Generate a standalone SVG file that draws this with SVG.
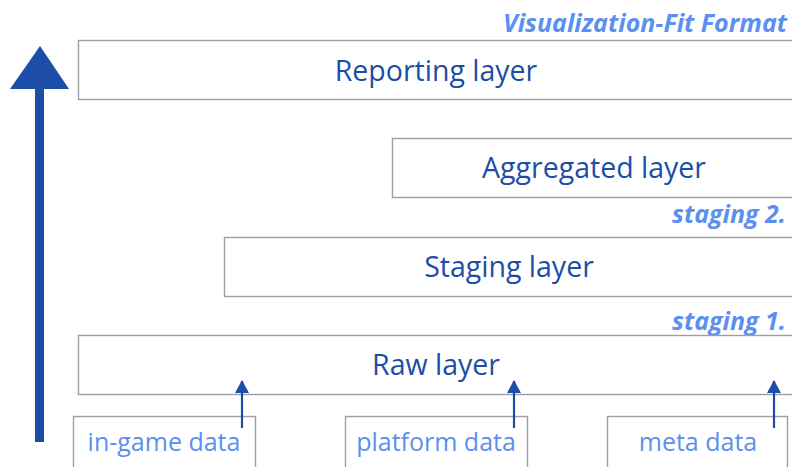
<svg xmlns="http://www.w3.org/2000/svg" width="792" height="467" viewBox="0 0 792 467">
<defs>
<style>
.box{fill:#ffffff;stroke:#9e9e9e;stroke-width:1.4}
.layer{font-family:"Open Sans","Liberation Sans",sans-serif;font-size:28.5px;fill:#1c4ea8;text-anchor:middle}
.src{font-family:"Open Sans","Liberation Sans",sans-serif;font-size:25px;fill:#5b8ff0;text-anchor:middle}
.tag{font-family:"Open Sans","Liberation Sans",sans-serif;font-size:25px;font-weight:bold;font-style:italic;fill:#5b8ff0;text-anchor:end}
.conn{stroke:#1c4ea8;stroke-width:2.2;fill:none}
</style>
<marker id="ah" viewBox="0 0 13 14" refX="12" refY="7" markerWidth="13" markerHeight="14" markerUnits="userSpaceOnUse" orient="auto">
<path d="M0,0 L13,7 L0,14 Z" fill="#1c4ea8"/>
</marker>
</defs>
<rect width="792" height="467" fill="#ffffff"/>
<text class="tag" x="787" y="32">Visualization-Fit Format</text>
<text class="tag" x="786" y="223">staging 2.</text>
<text class="tag" x="786" y="330">staging 1.</text>
<g id="reporting">
<rect class="box" x="78.5" y="40.5" width="720" height="59"/>
<text class="layer" x="436" y="81">Reporting layer</text>
</g>
<g id="aggregated">
<rect class="box" x="392.5" y="138.5" width="410" height="59"/>
<text class="layer" x="594" y="178">Aggregated layer</text>
</g>
<g id="staging">
<rect class="box" x="224.5" y="237.5" width="580" height="59"/>
<text class="layer" x="509" y="277">Staging layer</text>
</g>
<g id="raw">
<rect class="box" x="78.5" y="335.5" width="720" height="59"/>
<text class="layer" x="436" y="375">Raw layer</text>
</g>
<g id="ingame">
<rect class="box" x="73.5" y="416.5" width="182" height="60"/>
<text class="src" x="164" y="451">in-game data</text>
</g>
<g id="platform">
<rect class="box" x="345.5" y="416.5" width="182" height="60"/>
<text class="src" x="436" y="451">platform data</text>
</g>
<g id="meta">
<rect class="box" x="607.5" y="416.5" width="180" height="60"/>
<text class="src" x="698" y="451">meta data</text>
</g>
<g id="connectors">
<line class="conn" x1="242" y1="428" x2="242" y2="381" marker-end="url(#ah)"/>
<line class="conn" x1="514" y1="428" x2="514" y2="381" marker-end="url(#ah)"/>
<line class="conn" x1="774" y1="428" x2="774" y2="381" marker-end="url(#ah)"/>
<g id="bigarrow">
<rect x="35" y="86" width="9" height="356" fill="#1c4ea8"/>
<path d="M10,89 L40,46 L69,89 Z" fill="#1c4ea8"/>
</g>
</g>
</svg>
